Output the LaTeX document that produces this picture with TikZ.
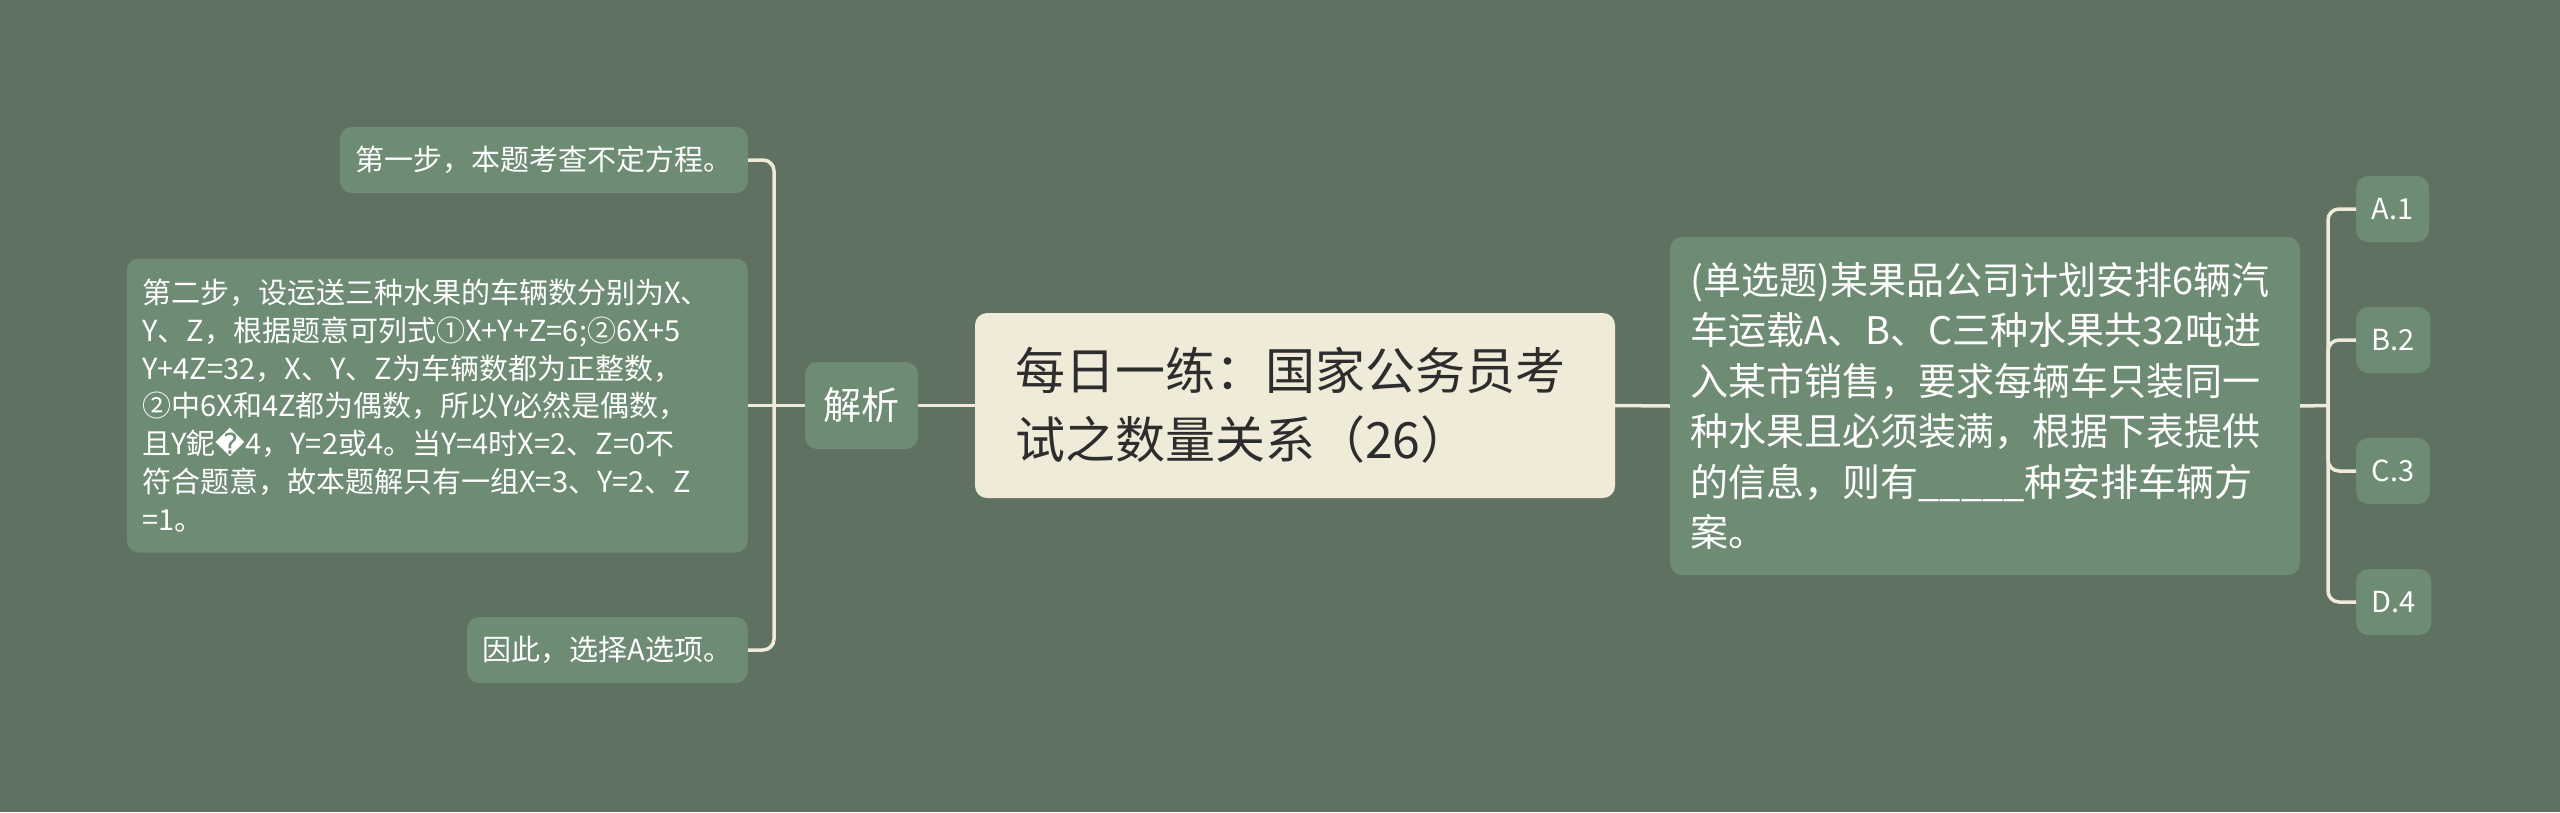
\documentclass[tikz,border=0pt]{standalone}
\usepackage{fontspec}
\setmainfont{Noto Sans CJK SC}
\newfontfamily\symfont{DejaVu Sans}
\usetikzlibrary{positioning}
\definecolor{bgcol}{RGB}{95,114,97}
\definecolor{boxcol}{RGB}{110,139,115}
\definecolor{creamcol}{RGB}{240,235,217}
\definecolor{titlecol}{RGB}{45,45,45}

\begin{document}
\begin{tikzpicture}[x=1pt, y=-1pt,
    topic/.style={fill=creamcol, text=titlecol, rounded corners=12pt, align=left, inner xsep=40pt, minimum height=185pt, font=\fontsize{50}{69}\selectfont},
    mainbox/.style={fill=boxcol, text=white, rounded corners=12pt, align=left, inner xsep=18pt, font=\fontsize{38}{50.5}\selectfont},
    subbox/.style={fill=boxcol, text=white, rounded corners=12pt, align=left, inner xsep=15.5pt, minimum height=66pt, font=\fontsize{29}{37.8}\selectfont},
    link/.style={draw=creamcol, line width=3.5pt, rounded corners=11pt}]
    % Background
    \fill[bgcol] (0,0) rectangle (2560,812);
    \useasboundingbox (0,0) rectangle (2560,812);

    % Root topic
    \node[topic, minimum width=640pt, text width=560pt] (root) at (1295,405.5) {每日一练：国家公务员考\\试之数量关系（26）};

    % Left branch
    \node[mainbox, minimum width=113pt, minimum height=87pt] (jiexi) at (861.5,405.5) {解析};
    \node[subbox, anchor=east] (step1) at (748,160) {第一步，本题考查不定方程。};
    \node[subbox, anchor=east, text width=590pt, minimum height=294pt] (step2) at (748,405.5) {第二步，设运送三种水果的车辆数分别为X、\\Y、Z，根据题意可列式①X+Y+Z=6;②6X+5\\Y+4Z=32，X、Y、Z为车辆数都为正整数，\\②中6X和4Z都为偶数，所以Y必然是偶数，\\且Y鈮{\symfont ^^^^fffd}4，Y=2或4。当Y=4时X=2、Z=0不\\符合题意，故本题解只有一组X=3、Y=2、Z\\=1。};
    \node[subbox, anchor=east] (step3) at (748,650) {因此，选择A选项。};

    % Right branch
    \node[mainbox, text width=589pt, inner xsep=20.5pt, minimum height=338pt] (question) at (1985,406) {(单选题)某果品公司计划安排6辆汽\\车运载A、B、C三种水果共32吨进\\入某市销售，要求每辆车只装同一\\种水果且必须装满，根据下表提供\\的信息，则有\_\_\_\_\_种安排车辆方\\案。};
    \foreach \lab/\y [count=\i] in {A.1/209, B.2/340, C.3/471, D.4/602}
        \node[subbox, anchor=west] (opt\i) at (2356,\y) {\lab};

    % Connectors
    \coordinate (jl) at (774,405.5);
    \coordinate (jr) at (2328,405.5);
    \draw[link] (root.west) -- (jiexi.east);
    \draw[link] (root.east) -- (question.west);
    \draw[link] (jiexi.west) -- (step2.east);
    \draw[link] (jl) |- (step1.east);
    \draw[link] (jl) |- (step3.east);
    \draw[link] (question.east) -- (jr);
    \foreach \i in {1,...,4}
        \draw[link] (jr) |- (opt\i.west);
\end{tikzpicture}
\end{document}
